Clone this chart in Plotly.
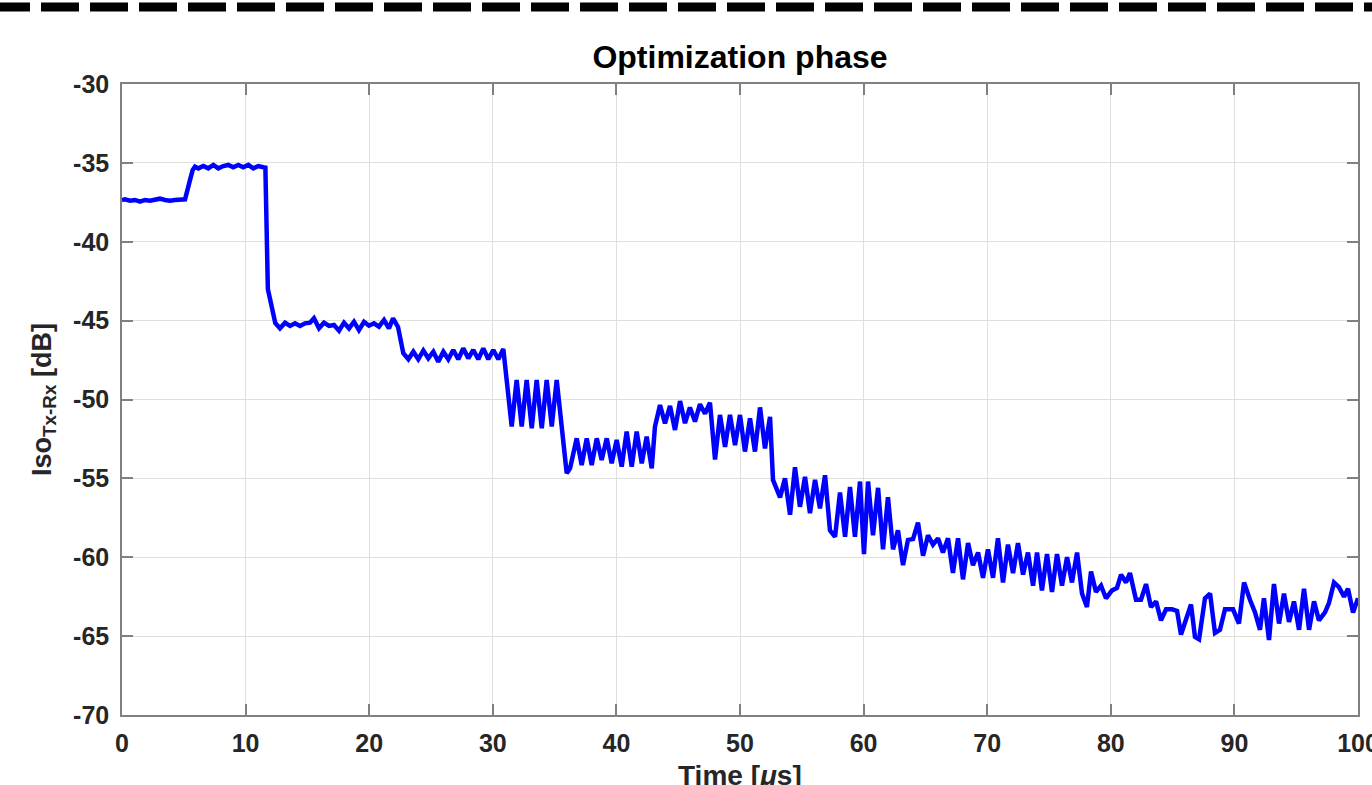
import plotly.graph_objects as go

# ---- data ----
time_us = [
    0, 0.24, 0.65, 1.05, 1.46, 1.86, 2.27, 2.67, 3.07, 3.48, 3.88, 4.29, 4.69, 5.1, 5.5, 5.72,
    5.91, 6.18, 6.58, 6.98, 7.39, 7.79, 8.2, 8.6, 9.0, 9.41, 9.81, 10.22, 10.62, 11.03, 11.43, 11.6,
    11.8, 12.4, 12.78, 13.19, 13.59, 14.0, 14.4, 14.81, 15.21, 15.53, 15.94, 16.34, 16.75, 17.15,
    17.56, 17.96, 18.37, 18.77, 19.17, 19.58, 19.98, 20.39, 20.79, 21.2, 21.6, 21.93, 22.33,
    22.76, 23.17, 23.57, 23.97, 24.38, 24.78, 25.19, 25.59, 26.0, 26.4, 26.8, 27.21, 27.61, 28.02,
    28.42, 28.83, 29.23, 29.64, 30.04, 30.45, 30.85,
    31.53, 31.93, 32.34, 32.74, 33.15, 33.55, 33.96, 34.36, 34.77, 35.17, 35.98, 36.25,
    36.79, 37.19, 37.6, 38.0, 38.41, 38.81, 39.22, 39.62, 40.02, 40.43, 40.83, 41.24, 41.64, 42.05,
    42.45, 42.86, 43.12, 43.53, 43.93, 44.34, 44.74,
    45.15, 45.55, 45.95, 46.36, 46.76, 47.17, 47.57, 47.98, 48.38, 48.79, 49.19, 49.6, 50.0, 50.4,
    50.81, 51.21, 51.62, 52.02, 52.43, 52.67, 53.24, 53.64, 54.05, 54.45, 54.85, 55.26, 55.66,
    56.07, 56.47, 56.88, 57.28, 57.69, 58.09, 58.5, 58.9, 59.3, 59.71, 60.03, 60.36, 60.76, 61.17,
    61.57, 61.97, 62.38, 62.78, 63.19, 63.59, 64.0, 64.4, 64.81, 65.21, 65.61, 66.02, 66.42, 66.83,
    67.23, 67.64, 68.04, 68.45, 68.85, 69.26, 69.66, 70.06, 70.47, 70.87, 71.28, 71.68, 72.09,
    72.49, 72.9, 73.3, 73.71, 74.03, 74.43, 74.84, 75.24, 75.65, 76.05, 76.46, 76.86, 77.27, 77.67,
    78.07, 78.4, 78.8, 79.21, 79.61, 80.1, 80.5, 80.83, 81.23, 81.55, 82.04, 82.44, 82.85, 83.25,
    83.66, 84.06, 84.47, 84.95, 85.36, 85.68, 86.08, 86.49, 86.81, 87.14, 87.62, 88.03, 88.43,
    88.83, 89.24, 89.89, 90.37, 90.78, 91.26, 91.67, 92.07, 92.39, 92.8, 93.2, 93.61, 94.01, 94.42,
    94.82, 95.23, 95.63, 96.04, 96.44, 96.84, 97.33, 97.65, 98.06, 98.46, 98.87, 99.19, 99.6, 100.0,
]
iso_db = [
    -37.35, -37.31, -37.4, -37.35, -37.46, -37.35, -37.4, -37.31, -37.27, -37.35, -37.4, -37.35, -37.35, -37.31, -36.09, -35.45,
    -35.24, -35.35, -35.2, -35.35, -35.13, -35.35, -35.2, -35.13, -35.28, -35.13, -35.28, -35.13, -35.35, -35.2, -35.28, -35.3,
    -43.0, -45.15, -45.49, -45.13, -45.34, -45.17, -45.34, -45.17, -45.13, -44.85, -45.49, -45.13, -45.34, -45.28,
    -45.64, -45.13, -45.49, -45.07, -45.6, -45.07, -45.32, -45.17, -45.38, -44.96, -45.49, -44.85, -45.4,
    -47.07, -47.45, -46.97, -47.45, -46.9, -47.39, -46.97, -47.6, -46.97, -47.45, -46.86, -47.45, -46.76, -47.39,
    -46.86, -47.45, -46.76, -47.45, -46.86, -47.45, -46.8,
    -51.72, -48.76, -51.72, -48.76, -51.83, -48.76, -51.83, -48.76, -51.72, -48.76, -54.68, -54.36,
    -52.46, -54.15, -52.46, -54.15, -52.46, -53.84, -52.46, -54.05, -52.57, -54.26, -52.03, -54.26, -52.03, -54.05,
    -52.35, -54.36, -51.72, -50.35, -51.51, -50.41, -51.93,
    -50.1, -51.5, -50.5, -51.4, -50.3, -50.9, -50.2, -53.8, -50.98, -53.0, -50.98, -52.9, -50.98, -53.3,
    -51.2, -53.3, -50.5, -53.1, -51.1, -55.1, -56.2, -55.0, -57.3, -54.3, -56.8, -54.9, -57.2,
    -55.1, -56.9, -54.8, -58.3, -58.7, -55.9, -58.7, -55.55, -58.7, -55.2, -59.8, -55.2, -58.6, -55.6,
    -59.5, -56.2, -59.5, -58.3, -60.5, -58.9, -58.85, -57.8, -59.9, -58.6, -59.2, -58.8, -59.7, -58.8,
    -61.0, -58.8, -61.4, -59.1, -60.5, -59.7, -61.3, -59.5, -61.3, -58.8, -61.6, -59.2, -61.0,
    -59.1, -61.1, -59.7, -61.8, -59.7, -62.1, -59.8, -62.2, -59.8, -61.8, -60.0, -61.6, -59.7, -62.3,
    -63.15, -60.9, -62.2, -61.8, -62.6, -62.1, -61.95, -61.1, -61.6, -61.0, -62.7, -62.7, -61.7, -63.15,
    -62.8, -64.0, -63.3, -63.3, -63.4, -64.9, -64.0, -63.0, -65.05, -65.2, -62.6, -62.3, -64.8,
    -64.6, -63.3, -63.3, -64.2, -61.6, -62.7, -63.5, -64.6, -62.6, -65.25, -61.7, -64.2, -62.3, -64.1,
    -62.8, -64.6, -62.0, -64.6, -62.8, -64.0, -63.5, -62.9, -61.6, -61.9, -62.5, -62.0, -63.5, -62.6,
]

x_ticks = [0, 10, 20, 30, 40, 50, 60, 70, 80, 90, 100]
x_ticktext = ["0", "10", "20", "30", "40", "50", "60", "70", "80", "90", "100"]
y_ticks = [-70, -65, -60, -55, -50, -45, -40, -35, -30]
y_ticktext = ["-70", "-65", "-60", "-55", "-50", "-45", "-40", "-35", "-30"]

FONT = "Liberation Sans, Arial, Helvetica, sans-serif"
AX = "#808080"
GRID = "#dfdfdf"
TXT = "#262626"

fig = go.Figure()
fig.add_trace(go.Scatter(x=time_us, y=iso_db, mode="lines",
                         line=dict(color="#0000ff", width=4.5), showlegend=False))

axis_common = dict(
    showgrid=True, gridcolor=GRID, gridwidth=1,
    showline=True, linecolor=AX, linewidth=1.5, mirror="ticks",
    ticks="inside", ticklen=11, tickcolor=AX, tickwidth=1.5,
    zeroline=False,
    ticklabeloverflow="allow",
    tickfont=dict(family=FONT, size=25, color=TXT, weight="bold"),
)

fig.update_layout(
    width=1372, height=785,
    margin=dict(l=122, r=14, t=84, b=70, autoexpand=False),
    paper_bgcolor="white", plot_bgcolor="white",
    title=dict(text="<b>Optimization phase</b>", x=0.5, xref="paper", xanchor="center",
               y=1 - 57 / 785, yanchor="middle",
               font=dict(family=FONT, size=32, color="#000000")),
    xaxis=dict(range=[0, 100], tickvals=x_ticks, ticktext=x_ticktext,
               ticklabelstandoff=5, **axis_common),
    yaxis=dict(range=[-70, -30], tickvals=y_ticks, ticktext=y_ticktext,
               ticklabelstandoff=6,
               title=dict(text="<b>Iso<sub>Tx-Rx</sub> [dB]</b>", standoff=14,
                          font=dict(family=FONT, size=27, color=TXT)),
               **axis_common),
)

# x-axis title (slightly cut by the bottom edge, as in the reference)
fig.add_annotation(text="<b>Time [<i>μ</i>s]</b>", xref="paper", yref="paper",
                   x=0.5, y=(715 - 775) / 631, xanchor="center", yanchor="middle",
                   showarrow=False, font=dict(family=FONT, size=28, color=TXT))

# dashed separator at the top of the picture
fig.add_shape(type="line", xref="paper", yref="paper",
              x0=-130 / 1236, x1=1262 / 1236, y0=(715 - 7) / 631, y1=(715 - 7) / 631,
              line=dict(color="black", width=9, dash="38px,11px"))

fig.write_html("out.html")
